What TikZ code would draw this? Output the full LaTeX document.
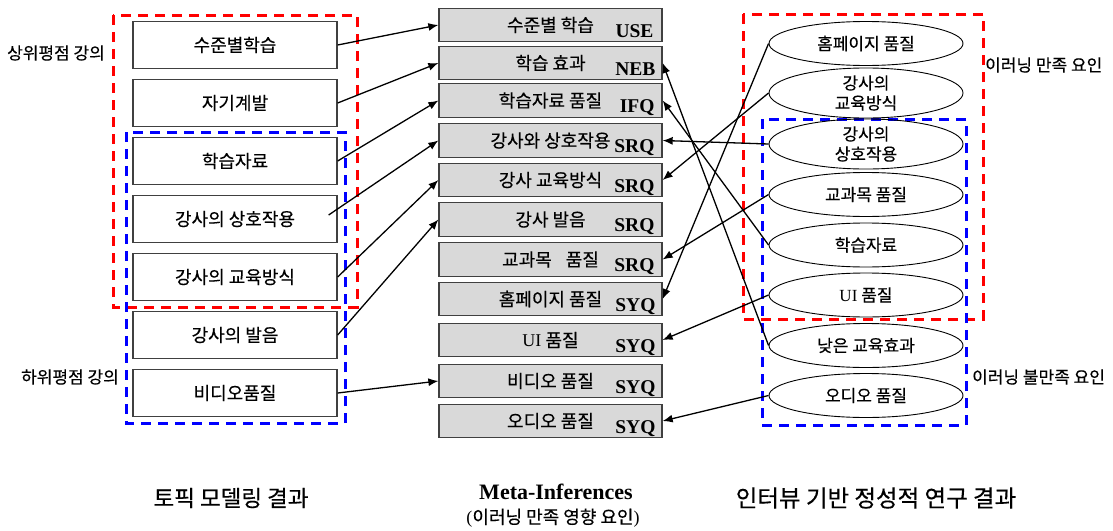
\documentclass[tikz,border=0pt]{standalone}
\usepackage{fontspec}
\setmainfont{Liberation Serif}
\newfontfamily\kr[FakeBold=0.35]{Noto Sans CJK KR}
\usetikzlibrary{shapes.geometric,arrows.meta,calc}
\definecolor{boxgray}{RGB}{217,217,217}
\definecolor{edgegray}{RGB}{64,64,64}
\definecolor{grpred}{RGB}{255,0,0}
\definecolor{grpblue}{RGB}{0,0,255}

\begin{document}
\begin{tikzpicture}[x=1pt,y=-1pt,
  topic/.style={draw=edgegray,line width=1.3pt,fill=white,minimum width=204pt,
    minimum height=46.5pt,inner sep=0pt,font=\kr\fontsize{18}{20}\selectfont},
  meta/.style={draw=edgegray,line width=1.3pt,fill=boxgray,minimum width=223pt,
    minimum height=33.5pt,inner sep=0pt,font=\kr\fontsize{18}{20}\selectfont},
  code/.style={anchor=base east,inner sep=0pt,font=\bfseries\fontsize{19.5}{21}\selectfont},
  factor/.style={ellipse,draw=black,line width=0.9pt,minimum width=194pt,
    minimum height=44pt,inner sep=0pt,align=center,font=\kr\fontsize{17}{20}\selectfont},
  group/.style={line width=3pt,dash pattern=on 10pt off 7pt},
  tag/.style={inner sep=0pt,font=\kr\fontsize{17}{19}\selectfont},
  link/.style={line width=1.3pt,-{Latex[length=10pt,width=8pt]}},
  title/.style={inner sep=0pt,align=center}]

\useasboundingbox (0,0) rectangle (1113,530);

% group frames
\draw[grpred,group]  (113,15)  rectangle (357,307);
\draw[grpblue,group] (126,132) rectangle (345,423);
\draw[grpred,group]  (743,14)  rectangle (983,319);
\draw[grpblue,group] (762,119) rectangle (966,425);

\node[tag] (gtop) at (56,53)  {상위평점 강의};
\node[tag] (gbot) at (70,377) {하위평점 강의};
\node[tag,anchor=west] (gsat) at (985,65)  {이러닝 만족 요인};
\node[tag,anchor=west] (gdis) at (972,377) {이러닝 불만족 요인};

% topic modelling results
\node[topic] (L1) at (235,45)  {수준별학습};
\node[topic] (L2) at (235,103) {자기계발};
\node[topic] (L3) at (235,161) {학습자료};
\node[topic] (L4) at (235,219) {강사의 상호작용};
\node[topic] (L5) at (235,277) {강사의 교육방식};
\node[topic] (L6) at (235,335) {강사의 발음};
\node[topic] (L7) at (235,393) {비디오품질};

% meta-inferences
\node[meta] (M1)  at (550.5,25)    {수준별 학습};
\node[meta] (M2)  at (550.5,63)    {학습 효과};
\node[meta] (M3)  at (550.5,100.5) {학습자료 품질};
\node[meta] (M4)  at (550.5,140.5) {강사와 상호작용};
\node[meta] (M5)  at (550.5,180)   {강사 교육방식};
\node[meta] (M6)  at (550.5,219.5) {강사 발음};
\node[meta] (M7)  at (550.5,259.5) {교과목\hspace{14pt}품질};
\node[meta] (M8)  at (550.5,299)   {홈페이지 품질};
\node[meta] (M9)  at (550.5,340)   {{\rmfamily UI} 품질};
\node[meta] (M10) at (550.5,381)   {비디오 품질};
\node[meta] (M11) at (550.5,421)   {오디오 품질};

\node[code] (C1)  at ($(M1.south east)+(-9,-5)$)  {USE};
\node[code] (C2)  at ($(M2.south east)+(-7,-5)$)  {NEB};
\node[code] (C3)  at ($(M3.south east)+(-8,-5)$)  {IFQ};
\node[code] (C4)  at ($(M4.south east)+(-8,-5)$)  {SRQ};
\node[code] (C5)  at ($(M5.south east)+(-8,-5)$)  {SRQ};
\node[code] (C6)  at ($(M6.south east)+(-8,-5)$)  {SRQ};
\node[code] (C7)  at ($(M7.south east)+(-8,-5)$)  {SRQ};
\node[code] (C8)  at ($(M8.south east)+(-7,-5)$)  {SYQ};
\node[code] (C9)  at ($(M9.south east)+(-7,-5)$)  {SYQ};
\node[code] (C10) at ($(M10.south east)+(-7,-5)$) {SYQ};
\node[code] (C11) at ($(M11.south east)+(-7,-5)$) {SYQ};

% interview factors
\node[factor] (R1) at (866,43.5)  {홈페이지 품질};
\node[factor] (R2) at (866,93)    {강사의\\교육방식};
\node[factor] (R3) at (866,144)   {강사의\\상호작용};
\node[factor] (R4) at (866,194.5) {교과목 품질};
\node[factor] (R5) at (866,245)   {학습자료};
\node[factor] (R6) at (866,295)   {{\rmfamily UI} 품질};
\node[factor] (R7) at (866,345.5) {낮은 교육효과};
\node[factor] (R8) at (866,395.5) {오디오 품질};

% column titles
\node[title,font=\kr\fontsize{22.5}{26}\selectfont] (T1) at (231,498) {토픽 모델링 결과};
\node[title,font=\bfseries\fontsize{22}{24}\selectfont] (T2) at (556,492) {Meta-Inferences};
\node[title,font=\kr\fontsize{18}{22}\selectfont] (T3) at (553,518) {{\rmfamily (}이러닝 만족 영향 요인{\rmfamily )}};
\node[title,font=\kr\fontsize{23.5}{26}\selectfont] (T4) at (876,498) {인터뷰 기반 정성적 연구 결과};

% links from topics
\draw[link] (L1.east) -- (M1.west);
\draw[link] (L2.east) -- (M2.west);
\draw[link] (L3.east) -- (M3.west);
\coordinate (L4s) at ($(L4.east)+(-9,-4)$);
\draw[link] (L4s) -- (M4.west);
\draw[link] (L5.east) -- (M5.west);
\draw[link] (L6.east) -- (M6.west);
\draw[link] (L7.east) -- (M10.west);

% links from interview factors
\draw[link] (R1.west) -- (M8.east);
\draw[link] (R2.west) -- (M5.east);
\draw[link] (R3.west) -- (M4.east);
\draw[link] (R4.west) -- (M7.east);
\draw[link] (R5.west) -- (M3.east);
\draw[link] (R6.west) -- (M9.east);
\draw[link] (R7.west) -- (M2.east);
\draw[link] (R8.west) -- (M11.east);
\end{tikzpicture}
\end{document}
